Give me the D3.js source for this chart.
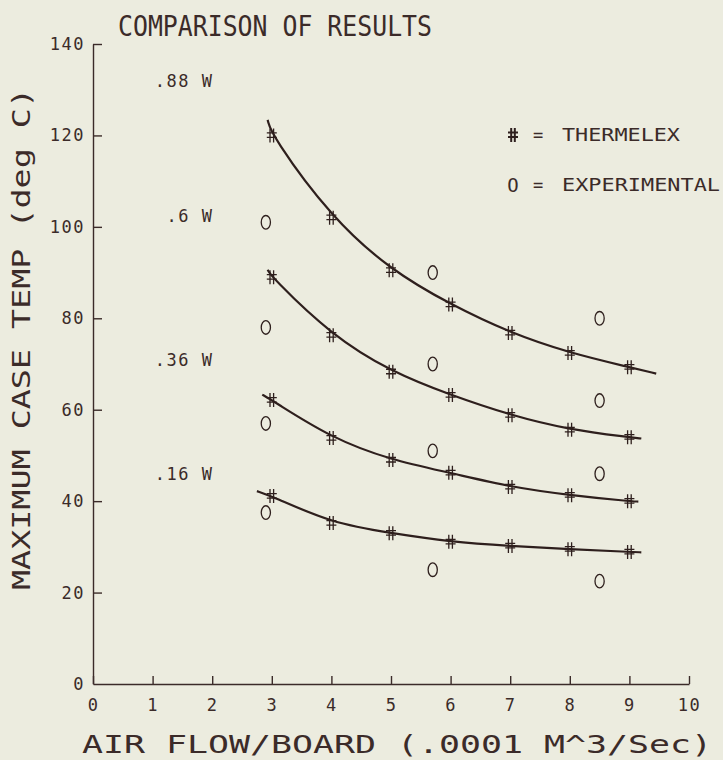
<!DOCTYPE html>
<html>
<head>
<meta charset="utf-8">
<script src="https://cdn.jsdelivr.net/npm/d3@7"></script>
<style>
  body { margin:0; background:#ececdf; }
  svg { display:block; }
  text { font-family:"DejaVu Sans Mono", monospace; fill:#3b2b29; }
  .axis path, .axis line { stroke:#3b2b29; stroke-width:1.4; }
  .axis text { font-size:17px; letter-spacing:1.5px; }
</style>
</head>
<body>
<div id="chart"></div>
<script>
// x positions of the model points
var flows = [3, 4, 5, 6, 7, 8, 9];
// THERMELEX values (deg C) for each power level
var thermelex088 = [120, 102, 90.5, 83, 76.8, 72.4, 69.3];
var thermelex060 = [89, 76.3, 68.3, 63.2, 58.8, 55.6, 54.0];
var thermelex036 = [62.1, 53.8, 49.0, 46.2, 43.1, 41.3, 40.0];
var thermelex016 = [41.1, 35.2, 33.0, 31.1, 30.2, 29.5, 28.9];
// where each drawn curve starts / ends [x, y]
var curveStart = [[2.93, 123.4], [2.93, 90.6], [2.84, 63.3], [2.75, 42.2]];
var curveEnd = [[9.45, 67.9], [9.2, 53.7], [9.15, 39.9], [9.2, 28.8]];
// experimental points
var expFlows = [2.9, 5.7, 8.5];
var exp088 = [101, 90, 80];
var exp060 = [78, 70, 62];
var exp036 = [57, 51, 46];
var exp016 = [37.5, 25, 22.5];
// power labels
var powerLabels = [".88 W", ".6 W", ".36 W", ".16 W"];
var powerLabelY = [132, 102.5, 71, 46];

var xTicks = d3.range(0, 11);
var yTicks = [0, 20, 40, 60, 80, 100, 120, 140];

var W = 723, H = 760;
var m = {l:93, r:34, t:44, b:76};

var svg = d3.select('#chart').append('svg')
	.attr('width', W)
	.attr('height', H);

var x = d3.scaleLinear().domain([0, 10]).range([m.l, W - m.r]);
var y = d3.scaleLinear().domain([0, 140]).range([H - m.b, m.t]);

var ink = '#2e1f1d';

// axes (ticks pointing inward like the plotter output)
svg.append('g')
	.attr('class', 'axis x')
	.attr('transform', 'translate(0,' + y(0) + ')')
	.call(d3.axisTop(x).tickValues(xTicks).tickSize(8).tickSizeOuter(0).tickFormat(d3.format('d')))
	.call(g => g.selectAll('text').attr('y', 15).attr('dy', '0.71em'));

svg.append('g')
	.attr('class', 'axis y')
	.attr('transform', 'translate(' + x(0) + ',0)')
	.call(d3.axisRight(y).tickValues(yTicks).tickSize(9).tickSizeOuter(0).tickFormat(d3.format('d')))
	.call(g => g.selectAll('text').attr('x', -8).attr('text-anchor', 'end'))
	.call(g => g.selectAll('.tick').filter(d => d === 0).select('line').remove());

// fitted curves
var series = [thermelex088, thermelex060, thermelex036, thermelex016];
var exps = [exp088, exp060, exp036, exp016];

var line = d3.line()
	.x(d => x(d[0]))
	.y(d => y(d[1]))
	.curve(d3.curveBasis);

series.forEach(function(vals, i) {
	var pts = [curveStart[i]].concat(flows.map((f, j) => [f, vals[j]]), [curveEnd[i]]);
	svg.append('path')
		.attr('d', line(pts))
		.attr('fill', 'none')
		.attr('stroke', ink)
		.attr('stroke-width', 2.2);
});

// "#" marker made as a custom symbol
var hash = {
	draw: function(ctx, size) {
		ctx.moveTo(-1.8, -7); ctx.lineTo(-1.8, 7);
		ctx.moveTo(1.8, -7); ctx.lineTo(1.8, 7);
		ctx.moveTo(-5, -2.5); ctx.lineTo(5, -2.5);
		ctx.moveTo(-5, 2); ctx.lineTo(5, 2);
	}
};
var hashPath = d3.symbol().type(hash)();

series.forEach(function(vals) {
	svg.append('g').selectAll('path')
		.data(flows.map((f, j) => [f, vals[j]]))
		.enter()
		.append('path')
			.attr('d', hashPath)
			.attr('transform', d => 'translate(' + x(d[0]) + ',' + y(d[1]) + ')')
			.attr('fill', 'none')
			.attr('stroke', ink)
			.attr('stroke-width', 1.3);
});

// experimental "O" markers
exps.forEach(function(vals) {
	svg.append('g').selectAll('ellipse')
		.data(expFlows.map((f, j) => [f, vals[j]]))
		.enter()
		.append('ellipse')
			.attr('cx', d => x(d[0]))
			.attr('cy', d => y(d[1]))
			.attr('rx', 4.6)
			.attr('ry', 6.8)
			.attr('fill', 'none')
			.attr('stroke', ink)
			.attr('stroke-width', 1.3);
});

// power level labels
svg.append('g').selectAll('text')
	.data(powerLabels)
	.enter()
	.append('text')
		.attr('x', x(2.02))
		.attr('y', (d, i) => y(powerLabelY[i]))
		.attr('dy', '0.36em')
		.attr('text-anchor', 'end')
		.attr('font-size', 17)
		.attr('letter-spacing', 1.5)
		.text(d => d);

// legend
var leg = svg.append('g');
leg.append('path')
	.attr('d', hashPath)
	.attr('transform', 'translate(513,135)')
	.attr('fill', 'none')
	.attr('stroke', ink)
	.attr('stroke-width', 2);
leg.append('text').attr('x', 538).attr('y', 135).attr('dy', '0.36em')
	.attr('text-anchor', 'middle').attr('font-size', 17).text('=');
leg.append('text').attr('x', 562).attr('y', 135).attr('dy', '0.36em')
	.attr('font-size', 18).attr('textLength', 118).attr('lengthAdjust', 'spacingAndGlyphs')
	.text('THERMELEX');
leg.append('text').attr('x', 513).attr('y', 185).attr('dy', '0.36em')
	.attr('text-anchor', 'middle').attr('font-size', 19).text('O');
leg.append('text').attr('x', 538).attr('y', 185).attr('dy', '0.36em')
	.attr('text-anchor', 'middle').attr('font-size', 17).text('=');
leg.append('text').attr('x', 562).attr('y', 185).attr('dy', '0.36em')
	.attr('font-size', 18).attr('textLength', 158).attr('lengthAdjust', 'spacingAndGlyphs')
	.text('EXPERIMENTAL');

// titles
svg.append('text')
	.attr('x', 118).attr('y', 36)
	.attr('font-size', 28)
	.attr('textLength', 314).attr('lengthAdjust', 'spacingAndGlyphs')
	.text('COMPARISON OF RESULTS');

svg.append('text')
	.attr('x', 82).attr('y', 753)
	.attr('font-size', 24)
	.attr('textLength', 630).attr('lengthAdjust', 'spacingAndGlyphs')
	.text('AIR FLOW/BOARD (.0001 M^3/Sec)');

svg.append('text')
	.attr('transform', 'translate(30,590) rotate(-90)')
	.attr('font-size', 25)
	.attr('textLength', 502).attr('lengthAdjust', 'spacingAndGlyphs')
	.text('MAXIMUM CASE TEMP (deg C)');
</script>
</body>
</html>
